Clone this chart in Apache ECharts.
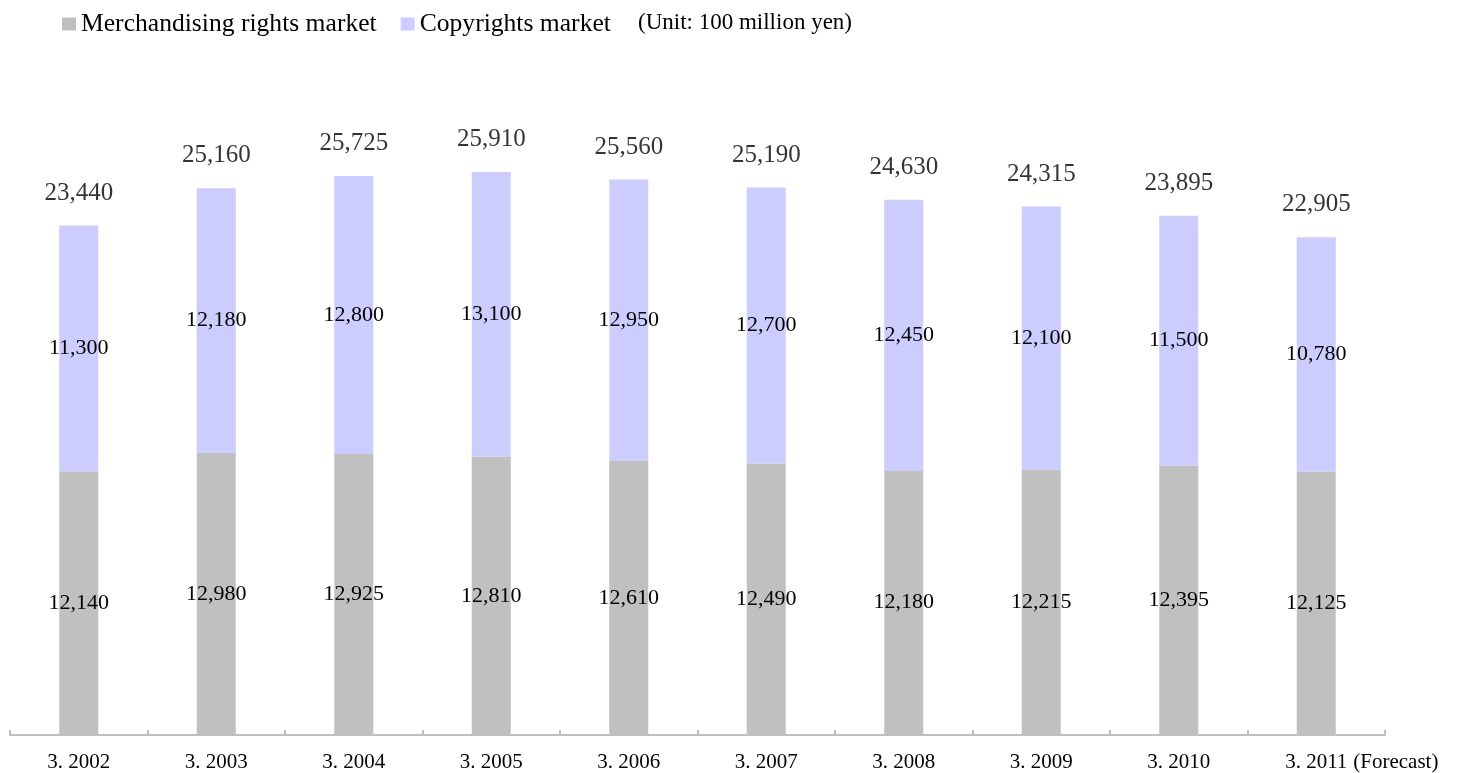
<!DOCTYPE html>
<html>
<head>
<meta charset="utf-8">
<style>
  html, body { margin: 0; padding: 0; background: #ffffff; }
  #chart { width: 1461px; height: 773px; }
</style>
<script src="https://cdn.jsdelivr.net/npm/echarts@6/dist/echarts.min.js"></script>
</head>
<body>
<div id="chart"></div>
<script>
// Fiscal years (March year-end)
const categories = ['3. 2002', '3. 2003', '3. 2004', '3. 2005', '3. 2006',
                    '3. 2007', '3. 2008', '3. 2009', '3. 2010', '3. 2011'];
// Market size, unit: 100 million yen
const merchandising = [12140, 12980, 12925, 12810, 12610, 12490, 12180, 12215, 12395, 12125];
const copyrights    = [11300, 12180, 12800, 13100, 12950, 12700, 12450, 12100, 11500, 10780];
const totals = merchandising.map((v, i) => v + copyrights[i]);

const SERIF = "'Liberation Serif', 'Times New Roman', 'DejaVu Serif', serif";
const fmt = v => Number(v).toLocaleString('en-US');

const chart = echarts.init(document.getElementById('chart'), null, { renderer: 'canvas' });

const unitNote = {
  type: 'text',
  left: 638,
  top: 11,
  style: { text: '(Unit: 100 million yen)', font: '23px ' + SERIF, fill: '#000000' }
};

chart.setOption({
  backgroundColor: '#ffffff',
  animation: false,
  textStyle: { fontFamily: SERIF, color: '#000000' },
  legend: {
    data: ['Merchandising rights market', 'Copyrights market'],
    left: 62,
    top: 11,
    padding: 0,
    icon: 'rect',
    itemWidth: 14,
    itemHeight: 13,
    itemGap: 24,
    itemTextGap: 6,
    textStyle: { fontFamily: SERIF, fontSize: 25.6, color: '#000000' }
  },
  graphic: [unitNote],
  grid: { left: 10, right: 76, top: 83, bottom: 37, containLabel: false },
  xAxis: {
    type: 'category',
    data: categories,
    axisLine: { lineStyle: { color: '#bfbfbf', width: 2 } },
    axisTick: { show: true, inside: true, length: 5, lineStyle: { color: '#bfbfbf', width: 2 } },
    axisLabel: { fontFamily: SERIF, fontSize: 21, color: '#000000', margin: 17 }
  },
  yAxis: {
    type: 'value',
    min: 0,
    max: 30000,
    show: false,
    splitLine: { show: false }
  },
  series: [
    {
      name: 'Merchandising rights market',
      type: 'bar',
      stack: 'market',
      data: merchandising,
      barWidth: 39,
      itemStyle: { color: '#c0c0c0' },
      label: {
        show: true, position: 'inside',
        fontFamily: SERIF, fontSize: 22, color: '#000000',
        formatter: p => fmt(p.value)
      }
    },
    {
      name: 'Copyrights market',
      type: 'bar',
      stack: 'market',
      data: copyrights,
      barWidth: 39,
      itemStyle: { color: '#ccccff' },
      label: {
        show: true, position: 'inside',
        fontFamily: SERIF, fontSize: 22, color: '#000000',
        formatter: p => fmt(p.value)
      }
    },
    {
      name: 'Total',
      type: 'scatter',
      data: totals,
      symbolSize: 0,
      silent: true,
      label: {
        show: true, position: 'top', distance: 20,
        fontFamily: SERIF, fontSize: 25, color: '#000000',
        formatter: p => fmt(p.value)
      }
    }
  ]
});

// Forecast note placed after the last category label
const last = chart.convertToPixel({ xAxisIndex: 0 }, categories[categories.length - 1]);
const gridBottom = chart.convertToPixel({ yAxisIndex: 0 }, 0);
chart.setOption({
  graphic: [unitNote, {
    type: 'text',
    x: last + 37,
    y: gridBottom + 17,
    style: { text: '(Forecast)', font: '21px ' + SERIF, fill: '#000000', textVerticalAlign: 'top' }
  }]
});
</script>
</body>
</html>
